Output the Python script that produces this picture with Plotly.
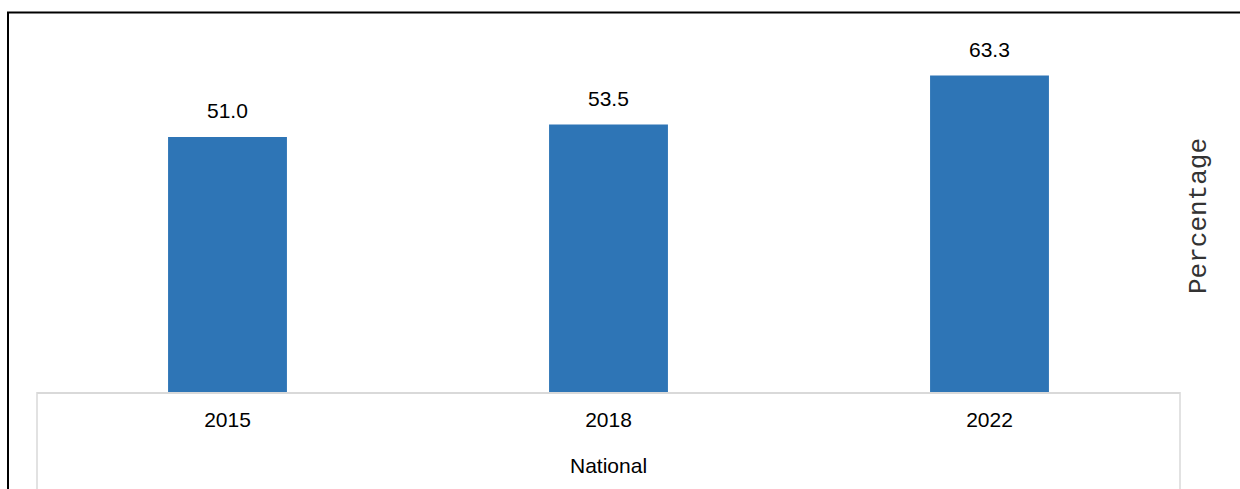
import plotly.graph_objects as go

categories = ["2015", "2018", "2022"]
values = [51.0, 53.5, 63.3]
group_label = "National"
axis_title = "Percentage"

W, H = 1240, 489
L, R_px = 37, 1180
BOT, TOP = 392, 12
pw = R_px - L
ph = BOT - TOP

def px_x(p):
    return (p - L) / pw

def px_y(p):
    return (BOT - p) / ph

font_main = "Liberation Sans Narrow, Arial Narrow, Liberation Sans, Arial, sans-serif"

fig = go.Figure()
fig.add_trace(go.Bar(
    x=categories, y=values,
    marker=dict(color="#2E75B6", line=dict(width=0)),
    width=0.312,
    hoverinfo="x+y",
))

annotations = []
for i, v in enumerate(values):
    annotations.append(dict(
        x=i, y=v, xref="x", yref="y", text=f"{v:.1f}", showarrow=False,
        yanchor="bottom", yshift=13,
        font=dict(family=font_main, size=21, color="#000000"),
    ))
annotations.append(dict(
    x=0.5, y=px_y(465), xref="paper", yref="paper", text=group_label,
    showarrow=False, xanchor="center", yanchor="middle",
    font=dict(family=font_main, size=21, color="#000000"),
))
annotations.append(dict(
    x=px_x(1199), y=px_y(216), xref="paper", yref="paper", text=axis_title,
    showarrow=False, xanchor="center", yanchor="middle", textangle=-90,
    font=dict(family="Liberation Mono, Courier New, monospace", size=26, color="#333333"),
))

shapes = [
    # outer border (left and top)
    dict(type="line", xref="paper", yref="paper",
         x0=px_x(8), x1=px_x(8), y0=px_y(12), y1=px_y(520),
         line=dict(color="#000000", width=2)),
    dict(type="line", xref="paper", yref="paper",
         x0=px_x(7), x1=px_x(1260), y0=px_y(12.5), y1=px_y(12.5),
         line=dict(color="#000000", width=2)),
    # category table verticals
    dict(type="line", xref="paper", yref="paper",
         x0=0, x1=0, y0=0, y1=px_y(520),
         line=dict(color="#d9d9d9", width=1.5)),
    dict(type="line", xref="paper", yref="paper",
         x0=1, x1=1, y0=0, y1=px_y(520),
         line=dict(color="#d9d9d9", width=1.5)),
]

fig.update_layout(
    width=W, height=H,
    margin=dict(l=L, r=W - R_px, t=TOP, b=H - BOT, pad=0),
    paper_bgcolor="white", plot_bgcolor="white",
    showlegend=False,
    xaxis=dict(
        type="category", range=[-0.5, len(categories) - 0.5],
        showline=True, linecolor="#d9d9d9", linewidth=1.5,
        ticks="outside", ticklen=8, tickcolor="rgba(0,0,0,0)",
        tickfont=dict(family=font_main, size=21, color="#000000"),
        showgrid=False, zeroline=False,
    ),
    yaxis=dict(
        range=[0, ph / 5.0], visible=False, showgrid=False, zeroline=False,
    ),
    annotations=annotations,
    shapes=shapes,
)

fig.write_html(
    "out.html",
    config={"displayModeBar": False},
    post_script="document.body.style.margin='0';document.body.style.overflow='hidden';",
)
